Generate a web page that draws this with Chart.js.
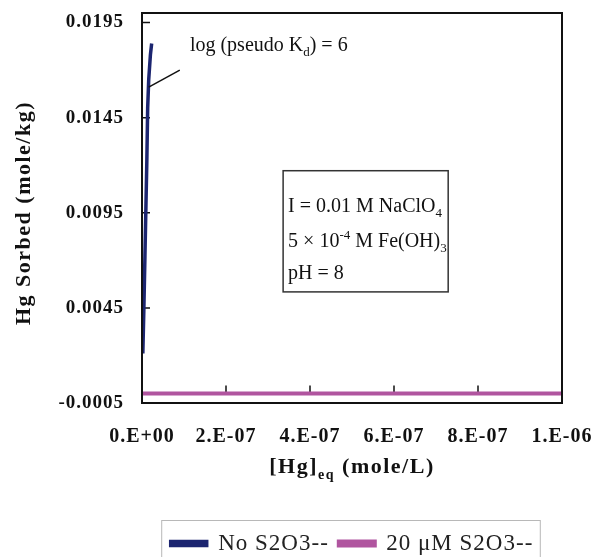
<!DOCTYPE html>
<html>
<head>
<meta charset="utf-8">
<script src="https://cdn.jsdelivr.net/npm/chart.js@4.4.1/dist/chart.umd.min.js"></script>
<style>
  html, body { margin: 0; padding: 0; background: #fff; }
</style>
</head>
<body>
<canvas id="hgChart" width="592" height="557"></canvas>
<script>
// data
const hgEqNoThio = [2.0e-9, 4.5e-9, 7.0e-9, 9.5e-9, 1.15e-8, 1.35e-8, 1.6e-8, 2.0e-8, 2.3e-8];
const sorbedNoThio = [0.0021, 0.0045, 0.0072, 0.0100, 0.0122, 0.0150, 0.0165, 0.0178, 0.0184];
const hgEqThio = [0, 2e-7, 4e-7, 6e-7, 8e-7, 1e-6];
const sorbedThio = [0, 0, 0, 0, 0, 0];
const seriesNames = ['No S2O3--', '20 \u03bcM S2O3--'];
const xTicks = [0, 2e-7, 4e-7, 6e-7, 8e-7, 1e-6];
const xTickLabels = ['0.E+00', '2.E-07', '4.E-07', '6.E-07', '8.E-07', '1.E-06'];
const yTicks = [-0.0005, 0.0045, 0.0095, 0.0145, 0.0195];
const yTickLabels = ['-0.0005', '0.0045', '0.0095', '0.0145', '0.0195'];

const SERIF = '"Liberation Serif", "Times New Roman", serif';
const NAVY = '#1c2570';
const PINK = '#b0559f';

function richWidth(ctx, parts, size, weight) {
  let w = 0;
  for (const [t, k] of parts) {
    const s = k === 'n' ? size : Math.round(size * 0.65);
    ctx.font = `${weight} ${s}px ${SERIF}`;
    w += ctx.measureText(t).width;
  }
  return w;
}

function drawRich(ctx, parts, x, y, size, weight) {
  let cx = x;
  for (const [t, k] of parts) {
    const s = k === 'n' ? size : Math.round(size * 0.65);
    ctx.font = `${weight} ${s}px ${SERIF}`;
    const dy = k === 'sub' ? size * 0.25 : (k === 'sup' ? -size * 0.4 : 0);
    ctx.fillText(t, cx, y + dy);
    cx += ctx.measureText(t).width;
  }
}

const decorations = {
  id: 'decorations',
  beforeUpdate(chart) {
    // the original font is a wide Garamond; spread library text a little
    chart.ctx.letterSpacing = '1px';
  },
  beforeDatasetsDraw(chart) {
    const { ctx, chartArea: a, scales: { x, y } } = chart;
    const y0 = y.getPixelForValue(0);
    ctx.save();
    ctx.strokeStyle = '#111';
    ctx.lineWidth = 1.5;
    ctx.beginPath();
    ctx.moveTo(a.left, y0);
    ctx.lineTo(a.right, y0);
    // x ticks sit on the zero line, pointing up
    xTicks.forEach(v => {
      const px = x.getPixelForValue(v);
      ctx.moveTo(px, y0);
      ctx.lineTo(px, y0 - 8);
    });
    // y ticks pointing inward
    yTicks.forEach(v => {
      const py = y.getPixelForValue(v);
      ctx.moveTo(a.left, py);
      ctx.lineTo(a.left + 8, py);
    });
    ctx.stroke();
    ctx.restore();
  },
  afterDraw(chart) {
    const { ctx, chartArea: a, scales: { x, y } } = chart;
    ctx.save();
    // plot frame
    ctx.strokeStyle = '#111';
    ctx.lineWidth = 2;
    ctx.strokeRect(a.left, a.top, a.right - a.left, a.bottom - a.top);

    ctx.fillStyle = '#111';
    ctx.textBaseline = 'alphabetic';

    // y title
    ctx.save();
    ctx.translate(22, 213);
    ctx.rotate(-Math.PI / 2);
    ctx.font = `bold 22px ${SERIF}`;
    ctx.textAlign = 'center';
    ctx.letterSpacing = '1.5px';
    ctx.fillText('Hg Sorbed (mole/kg)', 0, 8);
    ctx.restore();

    // x title with subscript
    ctx.letterSpacing = '1.5px';
    const xt = [['[Hg]', 'n'], ['eq', 'sub'], [' (mole/L)', 'n']];
    const xw = richWidth(ctx, xt, 22, 'bold');
    drawRich(ctx, xt, (a.left + a.right) / 2 - xw / 2, 473, 22, 'bold');
    ctx.letterSpacing = '0px';

    // pseudo Kd label and leader line
    ctx.strokeStyle = '#111';
    ctx.lineWidth = 1.5;
    ctx.beginPath();
    ctx.moveTo(x.getPixelForValue(1.6e-8), y.getPixelForValue(0.0161));
    ctx.lineTo(x.getPixelForValue(9.0e-8), y.getPixelForValue(0.0170));
    ctx.stroke();
    drawRich(ctx, [['log (pseudo K', 'n'], ['d', 'sub'], [') = 6', 'n']],
      x.getPixelForValue(1.14e-7), y.getPixelForValue(0.0180), 20, 'normal');

    // conditions box
    const bl = x.getPixelForValue(3.36e-7), br = x.getPixelForValue(7.29e-7);
    const bt = y.getPixelForValue(0.01171), bb = y.getPixelForValue(0.00534);
    ctx.strokeStyle = '#333';
    ctx.lineWidth = 1.5;
    ctx.strokeRect(bl, bt, br - bl, bb - bt);
    const tx = bl + 5;
    drawRich(ctx, [['I = 0.01 M NaClO', 'n'], ['4', 'sub']], tx, bt + 41, 20, 'normal');
    drawRich(ctx, [['5 \u00d7 10', 'n'], ['-4', 'sup'], [' M Fe(OH)', 'n'], ['3', 'sub']], tx, bt + 76, 20, 'normal');
    drawRich(ctx, [['pH = 8', 'n']], tx, bt + 108, 20, 'normal');

    // legend border
    const boxes = chart.legend.legendHitBoxes;
    if (boxes && boxes.length) {
      const first = boxes[0], last = boxes[boxes.length - 1];
      const midY = first.top + first.height / 2;
      ctx.strokeStyle = '#b8b8b8';
      ctx.lineWidth = 1;
      const l = first.left - 9, r = last.left + last.width + 7;
      ctx.strokeRect(l, midY - 23, r - l, 60);
    }
    ctx.restore();
  }
};

new Chart(document.getElementById('hgChart').getContext('2d'), {
  type: 'scatter',
  data: {
    datasets: [
      {
        label: seriesNames[0],
        data: hgEqNoThio.map((v, i) => ({ x: v, y: sorbedNoThio[i] })),
        showLine: true,
        borderColor: NAVY,
        backgroundColor: NAVY,
        borderWidth: 3.5,
        pointRadius: 0,
        tension: 0
      },
      {
        label: seriesNames[1],
        data: hgEqThio.map((v, i) => ({ x: v, y: sorbedThio[i] })),
        showLine: true,
        borderColor: PINK,
        backgroundColor: PINK,
        borderWidth: 4,
        pointRadius: 0,
        tension: 0
      }
    ]
  },
  options: {
    responsive: false,
    animation: false,
    layout: { padding: { top: 13, right: 30, left: 0, bottom: -8 } },
    plugins: {
      tooltip: { enabled: false },
      legend: {
        position: 'bottom',
        fullSize: false,
        labels: {
          boxWidth: 36,
          boxHeight: 4,
          padding: 10,
          color: '#222',
          font: { family: SERIF, size: 23 }
        }
      }
    },
    scales: {
      x: {
        type: 'linear',
        min: 0,
        max: 1e-6,
        grid: { display: false, drawTicks: false },
        border: { display: false },
        afterBuildTicks: s => { s.ticks = xTicks.map(v => ({ value: v })); },
        afterFit: s => { s.height = 119; s.paddingLeft = 0; s.paddingRight = 0; },
        ticks: {
          padding: 22,
          color: '#111',
          maxRotation: 0,
          autoSkip: false,
          font: { family: SERIF, size: 20, weight: 'bold' },
          callback: (v, i) => xTickLabels[i]
        }
      },
      y: {
        type: 'linear',
        min: -0.0005,
        max: 0.0200,
        grid: { display: false, drawTicks: false },
        border: { display: false },
        afterBuildTicks: s => { s.ticks = yTicks.map(v => ({ value: v })); },
        afterFit: s => { s.width = 142; s.paddingTop = 0; s.paddingBottom = 0; },
        ticks: {
          padding: 18,
          color: '#111',
          autoSkip: false,
          font: { family: SERIF, size: 19, weight: 'bold' },
          callback: (v, i) => yTickLabels[i]
        }
      }
    }
  },
  plugins: [decorations]
});
</script>
</body>
</html>
